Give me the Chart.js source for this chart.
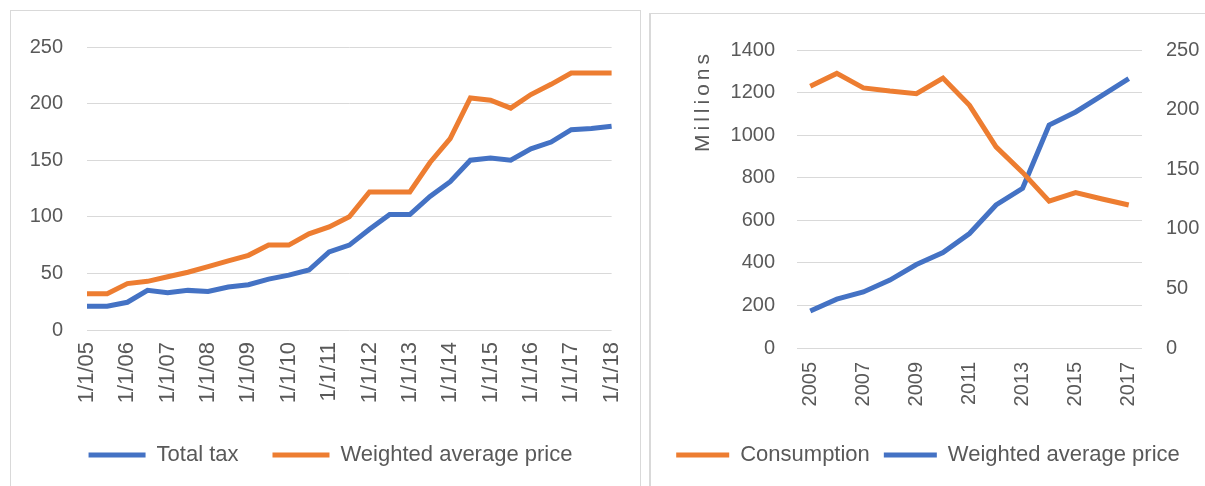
<!DOCTYPE html>
<html>
<head>
<meta charset="utf-8">
<script src="https://cdn.jsdelivr.net/npm/chart.js@4.4.1/dist/chart.umd.min.js"></script>
<style>
  html, body { margin: 0; padding: 0; background: #fff; width: 1205px; height: 486px; overflow: hidden; }
  .frame { position: absolute; border: 1px solid #d9d9d9; border-bottom: none; background: #fff; overflow: hidden; }
  #f1 { left: 10px; top: 10px; width: 629px; height: 490px; }
  #f2 { left: 649px; top: 13px; width: 560px; height: 490px; border-left: 2px solid #d9d9d9; border-right: none; }
  canvas { display: block; }
</style>
</head>
<body>
<div class="frame" id="f1"><canvas id="taxChart" width="639" height="500"></canvas></div>
<div class="frame" id="f2"><canvas id="consChart" width="554" height="500"></canvas></div>
<script>
// left chart: half-yearly
const dates = ["1/1/05", "7/1/05", "1/1/06", "7/1/06", "1/1/07", "7/1/07", "1/1/08", "7/1/08",
  "1/1/09", "7/1/09", "1/1/10", "7/1/10", "1/1/11", "7/1/11", "1/1/12", "7/1/12", "1/1/13",
  "7/1/13", "1/1/14", "7/1/14", "1/1/15", "7/1/15", "1/1/16", "7/1/16", "1/1/17", "7/1/17", "1/1/18"];
const totalTax = [21, 21, 24.5, 35, 33, 35, 34, 38, 40, 45, 48.5, 53, 69, 75, 89, 102, 102,
  118, 131, 150, 152, 150, 160, 166, 177, 178, 180];
const avgPriceLeft = [32, 32, 41, 43, 47, 51, 56, 61, 66, 75, 75, 85, 91, 100, 122, 122, 122,
  148, 169, 205, 203, 196, 208, 217, 227, 227, 227];

// right chart: yearly
const years = ["2005", "2006", "2007", "2008", "2009", "2010", "2011", "2012", "2013", "2014", "2015", "2016", "2017"];
const consumption = [1230, 1290, 1222, 1207, 1195, 1268, 1140, 945, 825, 690, 730, 700, 672];
const avgPriceRight = [31, 41, 47, 57, 70, 80, 96, 120, 134, 187, 198, 212, 226];

Chart.defaults.font.family = "'Liberation Sans', Arial, sans-serif";
Chart.defaults.font.size = 20;
Chart.defaults.color = '#595959';

const blue = '#4472C4';
const orange = '#ED7D31';
const gridColor = '#d9d9d9';

// legend entries as flat line swatches
function flatLabels(chart) {
  return Chart.defaults.plugins.legend.labels.generateLabels(chart).map(l => ({ ...l, lineWidth: 0 }));
}

function everyOther(v, i) {
  return i % 2 === 0 ? this.getLabelForValue(v) : '';
}

const ctx = document.getElementById('taxChart').getContext('2d');
const taxChart = new Chart(ctx, {
  type: 'line',
  data: {
    labels: dates,
    datasets: [
      { label: 'Total tax', data: totalTax, borderColor: blue, backgroundColor: blue,
        borderWidth: 5, pointRadius: 0, tension: 0 },
      { label: 'Weighted average price', data: avgPriceLeft, borderColor: orange, backgroundColor: orange,
        borderWidth: 5, pointRadius: 0, tension: 0 },
    ],
  },
  options: {
    responsive: false,
    animation: false,
    layout: { padding: { top: 28, right: 0, bottom: 35, left: 0 } },
    plugins: {
      legend: { position: 'bottom', labels: { font: { size: 22 }, boxWidth: 57, boxHeight: 5, padding: 34, generateLabels: flatLabels } },
      tooltip: { enabled: false },
    },
    scales: {
      x: {
        grid: { display: false, drawTicks: false },
        border: { display: false },
        ticks: { font: { size: 22 }, autoSkip: false, maxRotation: 90, minRotation: 90, padding: 12, callback: everyOther },
        afterFit: s => { s.height = 80; },
      },
      y: {
        min: 0, max: 250,
        ticks: { stepSize: 50, padding: 24 },
        grid: { color: gridColor, drawTicks: false },
        border: { display: false },
        afterFit: s => { s.width = 76; },
      },
    },
  },
});

// chart 2

const ctx2 = document.getElementById('consChart').getContext('2d');
const consChart = new Chart(ctx2, {
  type: 'line',
  data: {
    labels: years,
    datasets: [
      { label: 'Consumption', data: consumption, yAxisID: 'y', borderColor: orange, backgroundColor: orange,
        borderWidth: 5, pointRadius: 0, tension: 0 },
      { label: 'Weighted average price', data: avgPriceRight, yAxisID: 'y1', borderColor: blue, backgroundColor: blue,
        borderWidth: 5, pointRadius: 0, tension: 0 },
    ],
  },
  options: {
    responsive: false,
    animation: false,
    layout: { padding: { top: 27, right: 0, bottom: 38, left: 0 } },
    plugins: {
      legend: { position: 'bottom', labels: { font: { size: 22 }, boxWidth: 53, boxHeight: 5, padding: 14, generateLabels: flatLabels } },
      tooltip: { enabled: false },
    },
    scales: {
      x: {
        offset: true,
        grid: { display: false, drawTicks: false },
        border: { display: false },
        ticks: { autoSkip: false, maxRotation: 90, minRotation: 90, padding: 14, callback: everyOther },
        afterFit: s => { s.height = 82; },
      },
      y: {
        position: 'left',
        min: 0, max: 1400,
        ticks: { stepSize: 200, padding: 22, callback: v => String(v) },
        grid: { color: gridColor, drawTicks: false },
        border: { display: false },
        title: { display: true, text: 'Millions', align: 'end', font: { size: 21 }, padding: { top: 40, bottom: 0 } },
        afterFit: s => { s.width = 146; },
      },
      y1: {
        position: 'right',
        min: 0, max: 250,
        ticks: { stepSize: 50, padding: 24 },
        grid: { display: false, drawTicks: false },
        border: { display: false },
        afterFit: s => { s.width = 63; },
      },
    },
  },
});

// wider letter spacing on the "Millions" unit label, as in the original
const yScale = consChart.scales.y;
const baseDrawTitle = yScale.drawTitle;
yScale.drawTitle = function () {
  this.ctx.save();
  this.ctx.letterSpacing = '4px';
  baseDrawTitle.call(this);
  this.ctx.restore();
};
consChart.draw();
</script>
</body>
</html>
